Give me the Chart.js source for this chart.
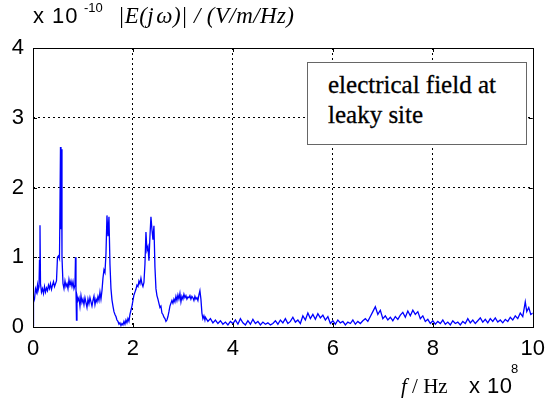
<!DOCTYPE html>
<html><head><meta charset="utf-8">
<script src="https://cdn.jsdelivr.net/npm/chart.js@4/dist/chart.umd.min.js"></script>
<style>
html,body{margin:0;padding:0;background:#fff;}
#wrap{position:relative;width:554px;height:409px;overflow:hidden;}
canvas{display:block;}
.sans{font-family:"Liberation Sans",Arial,sans-serif;color:#000;position:absolute;white-space:nowrap;}
.serif{font-family:"Liberation Serif","Times New Roman",serif;color:#000;position:absolute;white-space:nowrap;}
#legendBox{position:absolute;left:307px;top:62px;width:218px;height:81px;border:1px solid #666;background:#fff;}
#legendBox div{position:absolute;left:20px;font-family:"Liberation Serif","Times New Roman",serif;font-size:25px;color:#000;white-space:nowrap;-webkit-text-stroke:0.3px #000;}
</style></head><body>
<div id="wrap">
<canvas id="c" width="554" height="409"></canvas>
<div class="sans" style="left:33px;top:3px;font-size:22px;letter-spacing:1px;">x 10</div>
<div class="sans" style="left:84px;top:0px;font-size:13px;">-10</div>
<div class="serif" style="left:118px;top:3px;font-size:23px;font-style:italic;letter-spacing:0.4px;">|E(j&#8202;ω)| / (V/m/Hz)</div>
<div class="serif" style="left:401px;top:374px;font-size:21px;"><i>f</i> / Hz</div>
<div class="sans" style="left:469px;top:373px;font-size:22px;letter-spacing:0.5px;">x 10</div>
<div class="sans" style="left:511px;top:361px;font-size:13px;">8</div>
<div id="legendBox"><div id="lg1" style="top:8px;"></div><div id="lg2" style="top:38px;"></div></div>
</div>
<script>
// frequency f in units of 1e8 Hz
const freq = [
0.00,0.01,0.03,0.05,0.07,0.09,0.10,0.12,0.13,0.14,0.15,0.17,0.19,0.21,0.23,0.25,0.27,0.29,0.31,0.33,
0.35,0.37,0.39,0.41,0.43,0.45,0.47,0.49,0.51,0.53,0.55,0.56,0.57,0.58,0.60,0.62,0.64,0.66,0.68,0.70,
0.72,0.74,0.76,0.78,0.80,0.82,0.84,0.85,0.86,0.87,0.88,0.90,0.92,0.94,0.96,0.98,1.00,1.02,1.04,1.06,
1.08,1.10,1.12,1.14,1.16,1.18,1.20,1.22,1.24,1.26,1.28,1.30,1.32,1.34,1.36,1.38,1.40,1.42,1.44,1.46,
1.48,1.50,1.52,1.54,1.56,1.58,1.60,1.62,1.64,1.66,1.68,1.70,1.72,1.74,1.76,1.78,1.80,1.82,1.84,1.86,
1.88,1.90,1.92,1.94,1.96,1.98,2.00,2.02,2.04,2.06,2.08,2.10,2.12,2.14,2.16,2.18,2.20,2.22,2.24,2.26,
2.28,2.30,2.32,2.34,2.36,2.38,2.40,2.42,2.44,2.46,2.48,2.50,2.52,2.54,2.56,2.58,2.60,2.62,2.64,2.66,
2.68,2.70,2.72,2.74,2.76,2.78,2.80,2.82,2.84,2.86,2.88,2.90,2.92,2.94,2.96,2.98,3.00,3.02,3.04,3.06,
3.08,3.10,3.12,3.14,3.16,3.18,3.20,3.22,3.24,3.26,3.28,3.30,3.32,3.34,3.36,3.38,3.40,3.42,3.44,3.45,
3.50,3.55,3.60,3.65,3.70,3.75,3.80,3.85,3.90,3.95,4.00,4.05,4.10,4.15,4.20,4.25,4.30,4.35,4.40,4.45,
4.50,4.55,4.60,4.65,4.70,4.75,4.80,4.85,4.90,4.95,5.00,5.05,5.10,5.15,5.20,5.25,5.30,5.35,5.40,5.45,
5.50,5.55,5.60,5.65,5.70,5.75,5.80,5.85,5.90,5.95,6.00,6.05,6.10,6.15,6.20,6.25,6.30,6.35,6.40,6.45,
6.50,6.55,6.60,6.65,6.70,6.75,6.80,6.85,6.90,6.95,7.00,7.05,7.10,7.15,7.20,7.25,7.30,7.35,7.40,7.45,
7.50,7.55,7.60,7.65,7.70,7.75,7.80,7.85,7.90,7.95,8.00,8.05,8.10,8.15,8.20,8.25,8.30,8.35,8.40,8.45,
8.50,8.55,8.60,8.65,8.70,8.75,8.80,8.85,8.90,8.95,9.00,9.05,9.10,9.15,9.20,9.25,9.30,9.35,9.40,9.45,
9.50,9.55,9.60,9.65,9.70,9.75,9.80,9.85,9.88,9.92,9.96,10.00
];
// |E(jω)| in units of 1e-10 V/m/Hz
const magnitude = [
0.02,0.35,0.40,0.55,0.50,0.60,0.52,0.58,0.95,1.46,0.62,0.50,0.55,0.48,0.58,0.50,0.56,0.52,0.60,0.55,
0.62,0.54,0.60,0.65,0.58,0.62,0.66,1.00,1.02,0.98,2.58,1.40,2.55,1.00,0.62,0.55,0.66,0.58,0.62,0.55,
0.68,0.60,0.66,0.58,0.65,0.55,0.60,1.00,0.55,0.10,0.45,0.38,0.42,0.30,0.45,0.35,0.40,0.32,0.42,0.35,
0.28,0.40,0.33,0.42,0.36,0.30,0.38,0.44,0.32,0.40,0.36,0.44,0.38,0.50,0.40,0.52,0.70,0.82,0.78,1.05,
1.60,1.30,1.58,0.90,0.55,0.39,0.30,0.22,0.18,0.15,0.10,0.08,0.04,0.06,0.02,0.05,0.03,0.08,0.04,0.10,
0.06,0.12,0.08,0.18,0.24,0.30,0.38,0.46,0.50,0.54,0.60,0.58,0.66,0.62,0.70,0.62,0.58,0.64,0.90,1.36,
1.10,1.15,0.95,1.30,1.58,1.40,1.25,1.45,0.86,0.55,0.45,0.40,0.34,0.28,0.30,0.20,0.18,0.14,0.12,0.08,
0.10,0.15,0.22,0.30,0.34,0.38,0.34,0.40,0.36,0.44,0.38,0.46,0.40,0.48,0.36,0.44,0.40,0.47,0.42,0.45,
0.40,0.43,0.42,0.45,0.40,0.44,0.42,0.38,0.44,0.40,0.42,0.38,0.46,0.52,0.40,0.20,0.12,0.16,0.10,0.14,
0.08,0.12,0.06,0.10,0.05,0.09,0.04,0.07,0.03,0.08,0.05,0.10,0.04,0.12,0.06,0.03,0.09,0.04,0.11,0.05,
0.08,0.03,0.07,0.04,0.06,0.03,0.05,0.09,0.04,0.10,0.06,0.12,0.05,0.08,0.14,0.07,0.10,0.05,0.16,0.10,
0.20,0.12,0.18,0.11,0.19,0.13,0.17,0.10,0.15,0.05,0.09,0.04,0.10,0.06,0.08,0.03,0.07,0.05,0.10,0.04,
0.08,0.05,0.09,0.12,0.08,0.15,0.22,0.29,0.18,0.24,0.12,0.16,0.10,0.14,0.09,0.15,0.11,0.17,0.21,0.14,
0.23,0.16,0.24,0.18,0.22,0.12,0.16,0.08,0.11,0.05,0.09,0.04,0.08,0.05,0.10,0.04,0.07,0.03,0.09,0.05,
0.07,0.03,0.08,0.05,0.12,0.06,0.10,0.05,0.09,0.13,0.07,0.11,0.06,0.12,0.08,0.13,0.07,0.10,0.06,0.11,
0.08,0.14,0.10,0.16,0.12,0.20,0.15,0.36,0.22,0.28,0.18,0.20
];
const xTicks = [0, 2, 4, 6, 8, 10];
const yTicks = [0, 1, 2, 3, 4];
const legendLines = ['electrical field at', 'leaky site'];

document.getElementById('lg1').textContent = legendLines[0];
document.getElementById('lg2').textContent = legendLines[1];

const points = freq.map((f, i) => ({x: f, y: magnitude[i]}));

const frame = {
  id: 'frame',
  afterDraw(chart) {
    const {ctx, chartArea: a, scales} = chart;
    ctx.save();
    ctx.strokeStyle = '#000';
    ctx.lineWidth = 1;
    ctx.setLineDash([]);
    ctx.strokeRect(Math.round(a.left) + 0.5, Math.round(a.top) + 0.5, Math.round(a.right - a.left), Math.round(a.bottom - a.top));
    ctx.beginPath();
    xTicks.forEach(v => {
      const px = Math.round(scales.x.getPixelForValue(v)) + 0.5;
      ctx.moveTo(px, a.bottom); ctx.lineTo(px, a.bottom - 4);
      ctx.moveTo(px, a.top); ctx.lineTo(px, a.top + 4);
    });
    yTicks.forEach(v => {
      const py = Math.round(scales.y.getPixelForValue(v)) + 0.5;
      ctx.moveTo(a.left, py); ctx.lineTo(a.left + 4, py);
      ctx.moveTo(a.right, py); ctx.lineTo(a.right - 4, py);
    });
    ctx.stroke();
    ctx.restore();
  }
};

const gridColor = (ctx, ticks) => {
  const v = ctx.tick ? ctx.tick.value : null;
  return (v === ticks[0] || v === ticks[ticks.length - 1]) ? 'rgba(0,0,0,0)' : '#000';
};

new Chart(document.getElementById('c'), {
  type: 'line',
  data: {
    datasets: [{
      data: points,
      borderColor: '#0000ff',
      borderWidth: 1.3,
      pointRadius: 0,
      tension: 0,
      fill: false
    }]
  },
  options: {
    responsive: false,
    devicePixelRatio: 1,
    animation: false,
    layout: {padding: {left: 0, top: 48, right: 15, bottom: 0}},
    plugins: {legend: {display: false}, tooltip: {enabled: false}},
    scales: {
      x: {
        type: 'linear', min: 0, max: 10,
        afterFit(s) { s.height = 82; },
        afterBuildTicks(s) { s.ticks = xTicks.map(v => ({value: v})); },
        ticks: {
          font: {family: '"Liberation Sans", Arial, sans-serif', size: 22},
          color: '#000', padding: 9, maxRotation: 0,
          callback: v => String(v)
        },
        grid: {drawTicks: false, lineWidth: 1, color: c => gridColor(c, xTicks)},
        border: {display: false, dash: [2, 3]}
      },
      y: {
        type: 'linear', min: 0, max: 4,
        afterFit(s) { s.width = 33; },
        afterBuildTicks(s) { s.ticks = yTicks.map(v => ({value: v})); },
        ticks: {
          font: {family: '"Liberation Sans", Arial, sans-serif', size: 22},
          color: '#000', padding: 9,
          callback: v => String(v)
        },
        grid: {drawTicks: false, lineWidth: 1, color: c => gridColor(c, yTicks)},
        border: {display: false, dash: [2, 3]}
      }
    }
  },
  plugins: [frame]
});
</script>
</body></html>
